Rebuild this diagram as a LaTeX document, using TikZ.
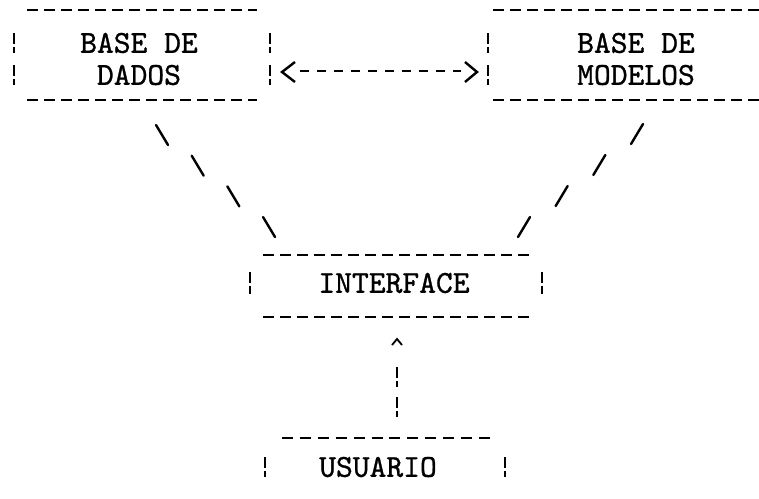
\documentclass[tikz,border=0pt]{standalone}
\usetikzlibrary{calc}

% typewriter face: Latin Modern Mono, slightly emboldened
\font\typewr="[lmmono10-regular.otf]:embolden=0.9" at 32pt
\newcommand\typefont{\typewr\baselineskip=32pt\relax}

\tikzset{
  x=1pt, y=-1pt,
  typed/.style={font=\typefont, inner sep=0pt, text=black},
  hdash/.style={line width=2pt, dash pattern=on 11pt off 6pt},
  adash/.style={line width=2pt, dash pattern=on 9pt off 8pt},
  vbar/.style={line width=2.4pt, dash pattern=on 11pt off 2.5pt},
  glyph/.style={line width=2.4pt, line cap=round},
}

\begin{document}
\begin{tikzpicture}
  \useasboundingbox[fill=white] (0,0) rectangle (759,498);

  % labels of the four blocks
  \node[typed, align=center] (bd)   at (139,59)  {BASE DE\\DADOS};
  \node[typed, align=left]   (bm)   at (636,59)  {BASE DE\\MODELOS};
  \node[typed]               (intf) at (394,283) {INTERFACE};
  \node[typed]               (usr)  at (378,467) {USUARIO};

  % typed borders: hyphen rows and broken bars
  % BASE DE DADOS
  \draw[hdash] (27,10) -- (257,10);
  \draw[hdash] (27,100) -- (257,100);
  \foreach \yy in {43,75} {
    \draw[vbar] (14,\yy-10) -- (14,\yy+10);
    \draw[vbar] (270,\yy-10) -- (270,\yy+10);
  }
  % BASE DE MODELOS
  \draw[hdash] (493,10) -- (759,10);
  \draw[hdash] (493,100) -- (759,100);
  \foreach \yy in {43,75}
    \draw[vbar] (488,\yy-10) -- (488,\yy+10);
  % INTERFACE
  \draw[hdash] (263,255) -- (532,255);
  \draw[hdash] (263,317) -- (532,317);
  \draw[vbar] (250,272) -- (250,294);
  \draw[vbar] (542,272) -- (542,294);
  % USUARIO
  \draw[hdash, dash pattern=on 11pt off 6.9pt] (282,438) -- (490,438);
  \draw[vbar] (265,457) -- (265,477);
  \draw[vbar] (505,457) -- (505,477);

  % two-way link between the two bases:  <--------->
  \coordinate (lt) at ($(bd.center)+(143,13)$);
  \coordinate (rt) at ($(bm.center)+(-159,13)$);
  \draw[glyph, line cap=butt, line join=miter]
    ($(lt)+(13,-10)$) -- (lt) -- ($(lt)+(13,10)$);
  \draw[glyph, line cap=butt, line join=miter]
    ($(rt)+(-12,-10)$) -- (rt) -- ($(rt)+(-12,10)$);
  \draw[adash] ($(lt)+(18,-1)$) -- ($(rt)+(-16,-1)$);

  % BASE DE DADOS to INTERFACE: a row of backslashes
  \coordinate (dl1) at ($(bd.center)+(23,76)$);
  \coordinate (dl2) at ($(intf.center)+(-125,-56)$);
  \foreach \t in {0,0.3333,0.6667,1}
    \draw[glyph] ($($(dl1)!\t!(dl2)$)+(-6,-10)$) -- ++(12,20);

  % BASE DE MODELOS to INTERFACE: a row of slashes
  \coordinate (dr1) at ($(bm.center)+(1,75)$);
  \coordinate (dr2) at ($(intf.center)+(130,-56)$);
  \foreach \t in {0,0.3333,0.6667,1}
    \draw[glyph] ($($(dr1)!\t!(dr2)$)+(6,-10)$) -- ++(-12,20);

  % USUARIO up to INTERFACE: caret over two broken bars
  \coordinate (vtop) at ($(intf.center)+(3,59)$);
  \coordinate (vbot) at ($(usr.center)+(19,-60)$);
  \draw[line width=1.8pt] ($(vtop)+(-5,3)$) -- ($(vtop)+(0,-3)$) -- ($(vtop)+(5,3)$);
  \draw[vbar] ($(vbot)+(0,-40)$) -- ($(vbot)+(0,-20)$);
  \draw[vbar] ($(vbot)+(0,-10)$) -- ($(vbot)+(0,10)$);
\end{tikzpicture}
\end{document}
